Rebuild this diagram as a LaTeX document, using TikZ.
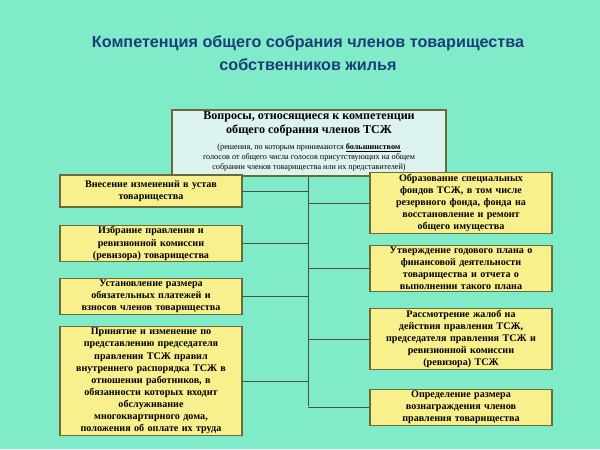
\documentclass[tikz,border=0pt]{standalone}
\usepackage{fontspec}
\setmainfont{Liberation Serif}
\newfontfamily\titlefont{Liberation Sans}
\usetikzlibrary{positioning}
\definecolor{bgteal}{HTML}{80EBC8}
\definecolor{boxyellow}{HTML}{F8F08C}
\definecolor{boxline}{HTML}{6B6B3A}
\definecolor{topfill}{HTML}{DDF3F0}
\definecolor{titleblue}{HTML}{1C3D7A}
\tikzset{
  item/.style={draw=boxline,line width=0.8pt,fill=boxyellow,align=center,
    font=\fontsize{7.2}{8.6}\selectfont\bfseries,inner sep=1pt,
    minimum width=4.55cm,text width=4.4cm},
  link/.style={draw=black!70,line width=0.5pt}
}
\begin{document}
\begin{tikzpicture}[x=0.025cm,y=-0.025cm]
    \fill[bgteal] (0,0) rectangle (600,449);
    \useasboundingbox (0,0) rectangle (600,449);
    % title
    \node[font=\titlefont\fontsize{11.5}{16}\selectfont\bfseries,text=titleblue,align=center]
      (title) at (308,53) {Компетенция общего собрания членов товарищества\\собственников жилья};
    % head box
    \node[draw=boxline,line width=0.8pt,fill=topfill,inner sep=0pt,
      minimum width=6.85cm,minimum height=1.65cm] (head) at (309,143) {};
    \node[font=\fontsize{8.6}{9.8}\selectfont\bfseries,align=center,inner sep=0pt]
      (headtext) at (309,124) {Вопросы, относящиеся к компетенции\\общего собрания членов ТСЖ};
    \node[font=\fontsize{5.8}{7}\selectfont,align=center,inner sep=0pt]
      (headnote) at (309,157.5) {(решения, по которым принимаются \textbf{\underline{большинством}}\\голосов от общего числа голосов присутствующих на общем\\собрании членов товарищества или их представителей)};
    % left column
    \node[item,minimum height=0.8cm] (l1) at (151,191) {Внесение изменений в устав\\товарищества};
    \node[item,minimum height=0.92cm] (l2) at (151,243.5) {Избрание правления и\\ревизионной комиссии\\(ревизора) товарищества};
    \node[item,minimum height=0.92cm] (l3) at (151,296.5) {Установление размера\\обязательных платежей и\\взносов членов товарищества};
    \node[item,minimum height=2.45cm] (l4) at (151,381) {Принятие и изменение по\\представлению председателя\\правления ТСЖ правил\\внутреннего распорядка ТСЖ в\\отношении работников, в\\обязанности которых входит\\обслуживание\\многоквартирного дома,\\положения об оплате их труда};
    % right column
    \node[item,minimum height=1.4cm] (r1) at (461,203) {Образование специальных\\фондов ТСЖ, в том числе\\резервного фонда, фонда на\\восстановление и ремонт\\общего имущества};
    \node[item,minimum height=1.08cm] (r2) at (461,268.5) {Утверждение годового плана о\\финансовой деятельности\\товарищества и отчета о\\выполнении такого плана};
    \node[item,minimum height=1.45cm] (r3) at (461,339) {Рассмотрение жалоб на\\действия правления ТСЖ,\\председателя правления ТСЖ и\\ревизионной комиссии\\(ревизора) ТСЖ};
    \node[item,minimum height=0.88cm] (r4) at (461,407.5) {Определение размера\\вознаграждения членов\\правления товарищества};
    % spine
    \coordinate (s0) at (308,406);
    \draw[link] (head.south -| s0) -- (s0);
    \foreach \n in {l1,l2,l3,l4,r1,r2,r3,r4}
      \draw[link] (\n) -- (\n -| s0);
\end{tikzpicture}
\end{document}
